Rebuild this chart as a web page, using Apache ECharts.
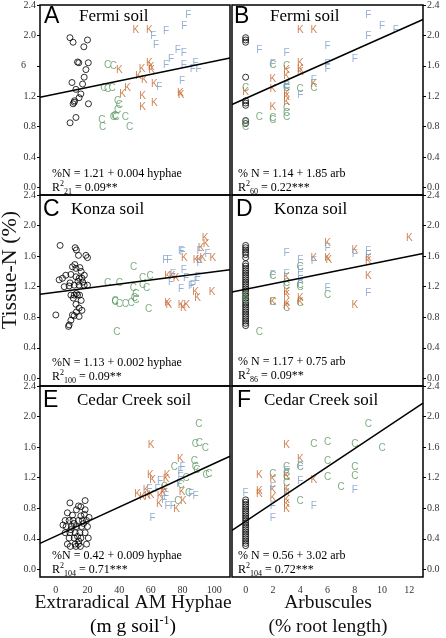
<!DOCTYPE html>
<html><head><meta charset="utf-8">
<script src="https://cdn.jsdelivr.net/npm/echarts@6/dist/echarts.min.js"></script>
<style>html,body{margin:0;padding:0;background:#fff}#c{width:446px;height:638px}</style>
</head><body><div id="c"></div><script>
// ---------- DATA ----------
const xTicksHyphae = [0, 20, 40, 60, 80, 100];
const xTicksArb = [0, 2, 4, 6, 8, 10, 12];
const yTicks = [0, 0.4, 0.8, 1.2, 1.6, 2.0, 2.4];

// Panel A (Fermi, hyphae)
const A_circ = [[8.9,1.97],[10.9,1.91],[20,1.94],[17.7,1.85],[13.7,1.65],[14.5,1.64],[20.5,1.64],[19,1.55],[17.9,1.45],[10.2,1.38],[16.9,1.36],[12.7,1.29],[15.8,1.23],[14.7,1.18],[11.8,1.14],[10.9,1.10],[11.6,1.12],[20.6,1.10],[12.7,0.92],[9,0.85]];
const A_C = [[32.7,1.61],[36.4,1.59],[30.4,1.31],[32.7,1.29],[35.6,1.31],[39,1.14],[40.1,1.08],[39,1.01],[38,0.92],[36.3,0.92],[37.3,0.93],[29.1,0.89],[29.5,0.79],[43.9,0.92],[46.6,0.79]];
const A_K = [[50.6,2.07],[59,2.07],[40.1,1.54],[54.4,1.55],[59,1.63],[60.5,1.54],[60.1,1.58],[52.3,1.46],[55.9,1.41],[62.2,1.36],[45.3,1.30],[42.2,1.22],[54.8,1.20],[62.2,1.11],[54.8,1.06],[78.7,1.24],[79.1,1.21]];
const A_F = [[83.7,2.26],[81.2,2.12],[61.6,1.99],[63.3,1.87],[69.6,2.06],[77,1.80],[80.8,1.77],[72.8,1.69],[69.6,1.61],[80.8,1.61],[88.2,1.63],[86.5,1.56],[90.1,1.56],[79.7,1.40],[65.4,1.32]];

// Panel B (Fermi, arbuscules)
const B_circ = [[0,1.97],[0,1.94],[0,1.91],[0,1.45],[0,1.14],[0,1.11],[0,1.08],[0,0.88],[0,0.84]];
const B_C = [[0,1.31],[0,0.85],[0,0.79],[1,0.92],[2,1.61],[2,0.91],[2,0.89],[3,1.60],[3,1.33],[3,1.30],[3,1.04],[3,0.97],[3,0.92],[4,1.29],[5,1.30]];
const B_K = [[0,1.25],[4,2.07],[5,2.07],[2,1.42],[2,1.29],[2,1.05],[3,1.54],[3,1.46],[3,1.23],[3,1.19],[3,1.12],[4,1.63],[4,1.56],[4,1.52],[5,1.36]];
const B_F = [[9,2.26],[10,2.12],[11,2.07],[9,1.99],[6,1.86],[1,1.80],[3,1.77],[2,1.62],[8,1.68],[6,1.62],[6,1.56],[5,1.41],[3,1.34],[3,1.31],[4,1.21]];

// Panel C (Konza, hyphae)
const C_circ = [[2.7,1.74],[12.2,1.71],[13,1.68],[14.3,1.61],[19,1.61],[20,1.58],[10.5,1.46],[12.7,1.44],[15.2,1.45],[6.3,1.35],[9.5,1.36],[2.1,1.29],[4.2,1.31],[12.7,1.33],[14.7,1.31],[16.5,1.31],[5.3,1.20],[8.4,1.21],[11.6,1.22],[14.7,1.22],[17.9,1.22],[20,1.22],[9.5,1.09],[11.6,1.09],[13.7,1.09],[12.7,0.97],[14.7,0.92],[16.5,0.89],[13,0.87],[10.5,0.83],[11.6,0.82],[14.7,0.81],[0,0.83],[9.5,0.76],[8.4,0.70],[8,0.68],[12,1.49],[16,1.40],[18,1.35],[14,1.27],[17,1.26],[9,1.25],[13,1.11],[15,1.09],[11,1.05],[16,1.02]];
const C_C = [[49.1,1.45],[32.7,1.24],[40.1,1.24],[54.8,1.31],[59.5,1.33],[48.9,1.18],[54.8,1.22],[57.3,1.18],[50.6,1.10],[49.6,1.05],[37.5,0.99],[40.1,0.97],[43.9,0.97],[47.5,0.98],[50.6,1.02],[37.5,1.01],[58.6,0.91],[38.6,0.61]];
const C_K = [[94.3,1.84],[94.9,1.75],[91.8,1.70],[81.2,1.57],[88.6,1.54],[90.7,1.55],[92.8,1.57],[99.1,1.57],[70.6,1.33],[73.4,1.33],[75.9,1.31],[88.2,1.13],[89.6,1.05],[98.7,1.13],[70.6,0.98],[71.3,0.96],[79.1,0.96],[80.6,0.92],[82.7,0.96]];
const C_F = [[79.1,1.67],[80.1,1.65],[69.2,1.55],[71.7,1.55],[90.7,1.66],[95.9,1.62],[80.8,1.42],[73.8,1.36],[72.8,1.26],[82.3,1.31],[89.6,1.32],[89,1.27],[86.5,1.22],[85.4,1.20],[79.1,1.16],[90.7,1.51]];

// Panel D (Konza, arbuscules)
const D_circ = [[0,1.74],[0,1.71],[0,1.68],[0,1.65],[0,1.62],[0,1.58],[0,1.50],[0,1.47],[0,1.44],[0,1.41],[0,1.38],[0,1.35],[0,1.32],[0,1.29],[0,1.26],[0,1.23],[0,1.20],[0,1.17],[0,1.14],[0,1.11],[0,1.08],[0,1.05],[0,1.02],[0,0.99],[0,0.96],[0,0.93],[0,0.90],[0,0.87],[0,0.84],[0,0.81],[0,0.78],[0,0.75],[0,0.72],[0,0.69]];
const D_C = [[1,0.61],[2,1.33],[2,0.99],[3,1.24],[3,1.20],[3,0.92],[4,1.46],[4,1.22],[4,1.19],[4,0.98],[6,1.09],[0,1.08],[0,1.02]];
const D_K = [[6,1.77],[6,1.57],[6.1,1.55],[5,1.57],[8,1.68],[9,1.53],[9,1.57],[9,1.33],[12,1.84],[3,1.32],[3,1.13],[3,1.09],[3,0.98],[3,0.94],[4,1.05],[4,1.00],[2,0.99],[8,0.96]];
const D_F = [[3,1.64],[4,1.55],[4,1.42],[5,1.53],[6,1.70],[8,1.62],[9,1.66],[9,1.61],[3,1.36],[2,1.35],[4,1.33],[4,1.29],[4,1.24],[6,1.18],[9,1.12]];

// Panel E (Cedar Creek, hyphae)
const E_circ = [[18.5,0.90],[8.9,0.87],[14.3,0.83],[15.8,0.82],[7.3,0.74],[13,0.78],[18.5,0.78],[5.9,0.64],[8.4,0.64],[10.9,0.64],[14.3,0.64],[16.8,0.64],[19.4,0.64],[6.5,0.56],[9.9,0.56],[13,0.56],[16.3,0.56],[20,0.56],[5.9,0.48],[8.9,0.48],[12.2,0.48],[15.2,0.48],[18.5,0.48],[8.4,0.41],[11.6,0.41],[15.8,0.41],[20.5,0.41],[7.3,0.33],[12.2,0.33],[14.3,0.33],[19.4,0.33],[9.1,0.30],[12.7,0.30],[15.5,0.30],[10.5,0.71],[15.8,0.70],[9.5,0.52],[13.7,0.43],[18,0.72],[21,0.68],[11.5,0.60],[17.5,0.60],[4.5,0.58],[14.5,0.37]];
const E_C = [[90.3,1.90],[88.2,1.64],[90.7,1.65],[94.5,1.59],[87.5,1.42],[88.2,1.33],[89,1.30],[74.9,1.33],[82.3,1.19],[94.9,1.23],[96.6,1.25],[79.1,1.10],[83.9,1.00],[77,0.89],[68.5,1.07]];
const E_K = [[60.1,1.63],[78.7,1.44],[59.7,1.23],[61.1,1.17],[70.3,1.23],[69.6,1.18],[51.6,0.98],[57,1.03],[58,0.96],[60.1,0.97],[65.8,0.96],[68.5,1.05],[67.9,1.00],[65.4,0.85],[76.3,0.79],[79.7,1.01],[80.6,0.89],[54.8,0.94]];
const E_F = [[61.1,0.67],[80.1,1.33],[78.7,1.28],[65.8,1.15],[59,1.05],[64.3,1.05],[78,1.11],[69.6,0.96],[68.5,0.91],[70.6,0.83],[73.8,0.83],[85.4,0.98],[88.2,0.96],[78.7,1.20]];

// Panel F (Cedar Creek, arbuscules)
const F_circ = [[0,0.91],[0,0.88],[0,0.85],[0,0.82],[0,0.79],[0,0.76],[0,0.73],[0,0.70],[0,0.67],[0,0.64],[0,0.61],[0,0.58],[0,0.55],[0,0.52],[0,0.49],[0,0.46],[0,0.43],[0,0.40],[0,0.37],[0,0.34],[0,0.31]];
const F_C = [[9,1.90],[5,1.64],[6,1.66],[8,1.64],[10,1.59],[6,1.42],[3,1.33],[3,1.26],[3,1.20],[3,1.13],[2,1.25],[4,1.33],[4,0.89],[6,1.20],[7,1.08],[8,1.33],[8,1.22]];
const F_K = [[3,1.63],[4,1.44],[1,1.23],[1,1.02],[1,0.98],[2,1.18],[2,1.04],[2,0.93],[3,1.22],[3,1.05],[3,1.00],[3,0.91],[3,0.85],[3,0.79],[5,1.17]];
const F_F = [[0,0.99],[4,1.35],[4,1.15],[2,1.08],[2,0.82],[2,0.67],[3,1.28],[3,0.98],[5,0.83],[8,1.04]];

// Regression lines (as drawn)
const fitIntercepts = [1.23, 1.17, 1.127, 1.166, 0.435, 0.63];
const fitSlopes = [0.0043, 0.08, 0.00267, 0.036, 0.0095, 0.119];

// Text
const panelLetters = ['A','B','C','D','E','F'];
const soilNames = ['Fermi soil','Fermi soil','Konza soil','Konza soil','Cedar Creek soil','Cedar Creek soil'];
const equations = ['%N = 1.21 + 0.004 hyphae','% N = 1.14 + 1.85 arb','%N = 1.13 + 0.002 hyphae','% N = 1.17 + 0.75 arb','%N = 0.42 + 0.009 hyphae','% N = 0.56 + 3.02 arb'];
const rDf = ['21','60','100','86','104','104'];
const rVals = [' = 0.09**',' = 0.22***',' = 0.09**',' = 0.09**',' = 0.71***',' = 0.72***'];

// ---------- CHART ----------
const SERIF = "'Liberation Serif','Times New Roman',serif";
const SANS = "'Liberation Sans',Arial,sans-serif";
const COL = {C:'#5e9963', K:'#c4652a', F:'#7d9dcb'};
const panels = [
  {circ:A_circ, C:A_C, K:A_K, F:A_F},
  {circ:B_circ, C:B_C, K:B_K, F:B_F},
  {circ:C_circ, C:C_C, K:C_K, F:C_F},
  {circ:D_circ, C:D_C, K:D_K, F:D_F},
  {circ:E_circ, C:E_C, K:E_K, F:E_F},
  {circ:F_circ, C:F_C, K:F_K, F:F_F}
];
const rowTop = [5, 195, 386], rowH = [190, 191, 191];
const colLeft = [40, 232], colW = [190, 191];

const grids = [], xAxes = [], yAxes = [], series = [], graphics = [];
panels.forEach((p, i) => {
  const c = i % 2, r = Math.floor(i / 2);
  const isLeft = c === 0;
  grids.push({left: colLeft[c], top: rowTop[r], width: colW[c], height: rowH[r], show: true, borderColor: '#000', borderWidth: 1.5, containLabel: false});
  const xr = isLeft ? [-10, 110] : [-1, 13];
  xAxes.push({type:'value', gridIndex:i, min:xr[0], max:xr[1], position:'bottom',
    axisLine:{show:false, onZero:false}, axisTick:{show:false}, splitLine:{show:false},
    axisLabel:{show: r === 2, customValues: isLeft ? xTicksHyphae : xTicksArb, fontFamily:SERIF, fontSize:10, color:'#333', margin:8}});
  yAxes.push({type:'value', gridIndex:i, min:-0.1, max:2.4, position: isLeft ? 'left' : 'right',
    axisLine:{show:false, onZero:false}, splitLine:{show:false},
    axisTick:{show:true, length:3, customValues:yTicks, lineStyle:{color:'#000', width:1}},
    axisLabel:{customValues:yTicks, fontFamily:SERIF, fontSize:10, color:'#333', margin:4,
      formatter: v => (i === 0 && Math.abs(v - 1.6) < 1e-6) ? '6    ' : v.toFixed(1)}});
  series.push({type:'scatter', xAxisIndex:i, yAxisIndex:i, data:p.circ, symbol:'circle', symbolSize:6,
    itemStyle:{color:'rgba(0,0,0,0)', borderColor:'#000', borderWidth:1}, silent:true, z:2});
  ['C','K','F'].forEach(L => {
    series.push({type:'scatter', xAxisIndex:i, yAxisIndex:i, data:p[L], symbol:'circle', symbolSize:1,
      itemStyle:{color:'rgba(0,0,0,0)'}, silent:true, z:3,
      label:{show:true, position:'inside', formatter:L, color:COL[L], fontFamily:SANS, fontSize:10}});
  });
  const b = fitIntercepts[i], m = fitSlopes[i];
  series.push({type:'line', xAxisIndex:i, yAxisIndex:i, data:[[xr[0], b + m*xr[0]], [xr[1], b + m*xr[1]]],
    symbol:'none', lineStyle:{color:'#000', width:1.5}, silent:true, z:4});

  // panel texts
  const letterX = [44, 234, 43, 236, 43, 237][i];
  const soilX = [79, 270, 71, 274, 77, 264][i];
  const titleY = [17, 17, 210, 210, 401, 401][i];
  graphics.push({type:'text', x:letterX, y:titleY, style:{text:panelLetters[i], fontFamily:SANS, fontSize:23, fill:'#000', align:'left', verticalAlign:'middle'}});
  graphics.push({type:'text', x:soilX, y:titleY, style:{text:soilNames[i], fontFamily:SERIF, fontSize:17, fill:'#000', align:'left', verticalAlign:'middle'}});
  const eqX = isLeft ? 52 : 238;
  const eqY = [174, 174, 363, 362, 556, 556][i];
  graphics.push({type:'text', x:eqX, y:eqY, style:{text:equations[i], fontFamily:SERIF, fontSize:12, fill:'#000', align:'left', verticalAlign:'middle'}});
  graphics.push({type:'text', x:eqX, y:eqY + 14, style:{
    text:'{r|R}{sup|2}{sub|' + rDf[i] + '}{r|' + rVals[i] + '}', align:'left', verticalAlign:'middle',
    rich:{ r:{fontFamily:SERIF, fontSize:12, color:'#000', lineHeight:16},
           sup:{fontFamily:SERIF, fontSize:8, color:'#000', verticalAlign:'top'},
           sub:{fontFamily:SERIF, fontSize:8, color:'#000', verticalAlign:'bottom'} }}});
});

graphics.push({type:'text', x:133, y:603, style:{text:'Extraradical AM Hyphae', fontFamily:SERIF, fontSize:19.5, fill:'#111', align:'center', verticalAlign:'middle'}});
graphics.push({type:'text', x:133, y:627, style:{text:'{t|(m g soil}{s|-1}{t|)}', align:'center', verticalAlign:'middle',
  rich:{t:{fontFamily:SERIF, fontSize:19.5, color:'#111', lineHeight:24}, s:{fontFamily:SERIF, fontSize:12, color:'#111', verticalAlign:'top'}}}});
graphics.push({type:'text', x:328, y:603, style:{text:'Arbuscules', fontFamily:SERIF, fontSize:19.5, fill:'#111', align:'center', verticalAlign:'middle'}});
graphics.push({type:'text', x:328, y:627, style:{text:'(% root length)', fontFamily:SERIF, fontSize:19.5, fill:'#111', align:'center', verticalAlign:'middle'}});
graphics.push({type:'text', x:10, y:270, rotation:Math.PI/2, style:{text:'Tissue-N (%)', fontFamily:SERIF, fontSize:22, fill:'#111', align:'center', verticalAlign:'middle'}});

const chart = echarts.init(document.getElementById('c'), null, {renderer:'canvas'});
chart.setOption({
  animation:false,
  backgroundColor:'#fff',
  grid:grids, xAxis:xAxes, yAxis:yAxes, series:series, graphic:graphics
});
</script></body></html>
